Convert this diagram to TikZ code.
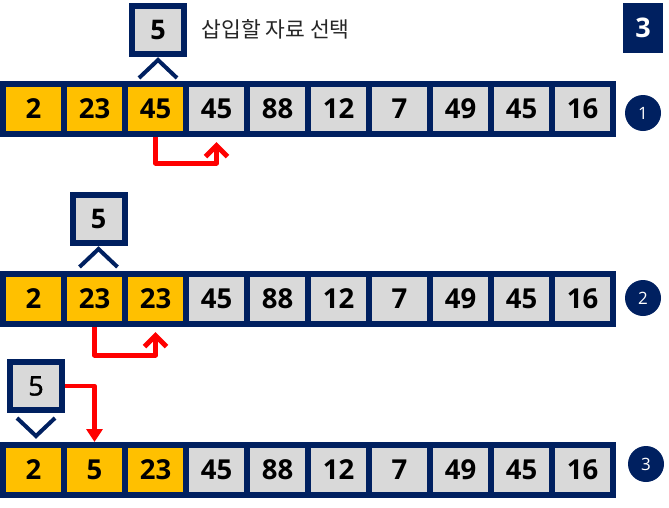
\documentclass[tikz,border=0pt]{standalone}
\usepackage{fontspec}
\setmainfont{Open Sans}
\newfontfamily\krfont{Noto Sans CJK KR}
\newfontfamily\medfont{Open Sans}[FakeBold=1.3]
\usetikzlibrary{arrows.meta,calc}
\definecolor{navy}{HTML}{002060}
\definecolor{cellO}{HTML}{FFC000}
\definecolor{cellG}{HTML}{D9D9D9}
\definecolor{redline}{HTML}{FF0000}
\tikzset{
  cell/.style={draw=navy,line width=6pt,minimum width=61pt,minimum height=50pt,inner sep=0pt,font=\fontsize{27.5}{27.5}\selectfont\bfseries},
  keybox/.style={draw=navy,fill=cellG,line width=6pt,minimum width=52pt,minimum height=48pt,inner sep=0pt,font=\fontsize{27}{27}\selectfont\bfseries},
  caret/.style={draw=navy,line width=4pt},
  badge/.style={circle,fill=navy,text=white,minimum size=36pt,inner sep=0pt,font=\fontsize{17}{17}\selectfont},
  movearrow/.style={draw=redline,line width=5pt,line join=round,-{Straight Barb[length=11pt,width=22pt]},shorten >=5pt},
  insertarrow/.style={draw=redline,line width=4.5pt,line join=round,-{Triangle[length=13pt,width=16pt]}},
}
\newcommand\cellrow[3]{%
  \foreach \v [count=\i from 0] in {#3} {%
    \ifnum\i<3 \def\cf{cellO}\else\def\cf{cellG}\fi
    \node[cell,fill=\cf] (#1c\i) at ({33.5+61*\i},#2) {\v};
  }}
\begin{document}
\begin{tikzpicture}[x=1pt,y=-1pt]
\useasboundingbox (0,0) rectangle (669,507);
% rows
\cellrow{a}{109}{2,23,45,45,88,12,7,49,45,16}
\cellrow{b}{299}{2,23,23,45,88,12,7,49,45,16}
\cellrow{c}{470}{2,5,23,45,88,12,7,49,45,16}
% key boxes
\node[keybox] (k1) at (158,30) {5};
\node[keybox] (k2) at (98.5,219) {5};
\node[keybox,font=\medfont\fontsize{27}{27}\selectfont] (k3) at (36,386) {5};
% carets
\draw[caret] ($(k1.south)+(-19,21)$) -- ($(k1.south)+(0,3)$) -- ($(k1.south)+(19,21)$);
\draw[caret] ($(k2.south)+(-19,21)$) -- ($(k2.south)+(0,3)$) -- ($(k2.south)+(19,21)$);
\draw[caret] ($(k3.south)+(-19,5)$) -- ($(k3.south)+(0,23)$) -- ($(k3.south)+(19,5)$);
% label
\node[anchor=west,font=\krfont\fontsize{21.5}{21.5}\selectfont,text=black!85] (lbl) at (198,29) {삽입할 자료 선택};
% step badge
\node[fill=navy,text=white,minimum width=40pt,minimum height=50pt,inner sep=0pt,font=\fontsize{27}{27}\selectfont\bfseries] (step3) at (643,28) {3};
% circles
\node[badge] (n1) at (643,113) {1};
\node[badge] (n2) at (643,298) {2};
\node[badge] (n3) at (646,464) {3};
% red arrows
\draw[movearrow] (ac2.south) -- ++(0,26) -| (ac3.south);
\draw[movearrow] (bc1.south) -- ++(0,28) -| (bc2.south);
\draw[insertarrow] (k3.east) -| (cc1.north);
\end{tikzpicture}
\end{document}
